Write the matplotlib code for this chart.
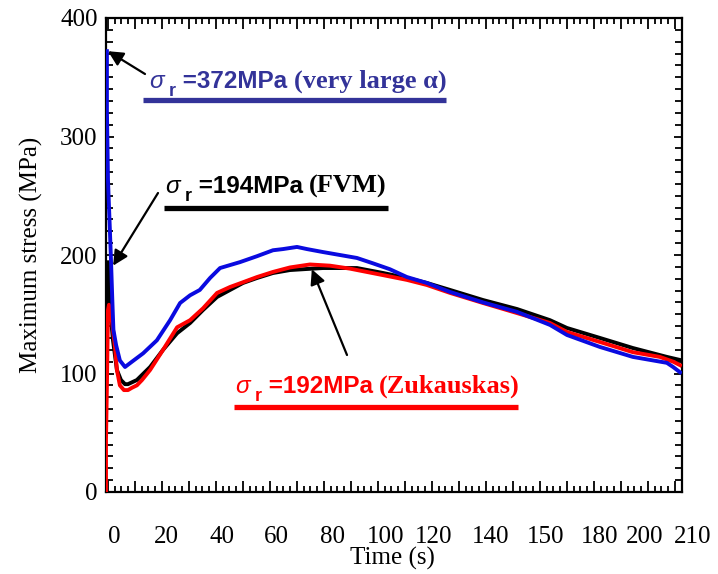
import matplotlib
matplotlib.use("Agg")
import matplotlib.pyplot as plt
from matplotlib.font_manager import FontProperties
from matplotlib.lines import Line2D
from matplotlib.ticker import MultipleLocator, NullFormatter

# ---- data -------------------------------------------------------------
t_blue = [-0.4, -0.4, 0.0, 0.7, 1.1, 1.6, 2.0, 3.0, 4.4, 6.3, 8.9, 13.0, 18.1, 23.0,
          26.7, 30.4, 34.0, 37.8, 41.5, 48.9, 55.2, 61.1, 64.8, 70.0, 73.7, 79.6,
          85.9, 92.2, 98.1, 104.4, 110.7, 118.1, 126.7, 138.9, 151.5, 163.7, 170.0,
          182.2, 194.4, 207.0, 209.3, 211.9]
s_blue = [372, 322, 263, 221, 196, 162, 137, 124, 111, 105.5, 110, 117, 128, 145,
          159.5, 166, 170.5, 180.6, 189, 194, 199, 204, 205, 206.8, 205, 202.5,
          200, 197.5, 193, 188, 181.4, 176.4, 168.8, 160, 152, 141, 132.5,
          122.4, 114, 109, 105.5, 101]

t_black = [-0.74, -0.37, 0.0, 0.37, 0.74, 1.85, 3.3, 4.8, 6.3, 7.4, 10.7, 15.6, 20.4,
           25.6, 30.4, 35.2, 40.4, 45.2, 50.0, 55.2, 61.1, 67.4, 73.7, 79.6, 92.2,
           101.9, 110.7, 118.1, 126.7, 138.9, 151.5, 163.7, 170.0, 182.2, 194.4,
           207.0, 211.9]
s_black = [99, 128, 194, 175, 156, 128, 103, 94.5, 91, 91, 94.5, 105.5, 120,
           134, 142.6, 153.6, 164.6, 170.5, 176.4, 180.6, 184.8, 187.3, 188.2, 189, 189,
           184.8, 180.6, 176.4, 170.5, 162, 154.4, 145, 138.4, 130, 121.5,
           114, 111.4]

t_red = [-0.74, -0.74, -0.37, 0.0, 0.37, 0.74, 1.5, 2.6, 3.3, 4.4, 5.9, 7.4, 8.9, 10.7,
         12.6, 15.6, 20.4, 25.6, 30.4, 35.2, 40.4, 45.2, 50.0, 55.2, 61.1, 67.4, 74.8,
         82.2, 89.6, 101.9, 110.7, 118.1, 126.7, 138.9, 151.5, 163.7, 170.0, 182.2,
         194.4, 204.4, 209.3, 211.9]
s_red = [0, 44, 94.5, 153.6, 158, 149, 143.5, 122, 103, 90, 86, 86, 88, 90,
         94.5, 103, 120, 139, 145, 155, 168, 173, 177, 181.4, 185.7, 189.5, 192,
         191, 188.5, 183, 179, 174.7, 168, 159.5, 151, 142.6, 135, 126.6,
         118, 114, 110, 107]

# time-axis labels and where they sit along the axis
time_lab = ["0", "20", "40", "60", "80", "100", "120", "140", "150", "180", "200", "210"]
time_lab_pos = [2.2, 21.8, 42.2, 62.2, 83.3, 103, 120.7, 141.8, 161.9, 182, 198.9, 216.7]

peak_blue, peak_black, peak_red = 372, 194, 192

# ---- figure -----------------------------------------------------------
serif = "Liberation Serif"
W, H = 718, 574
fig = plt.figure(figsize=(W / 100, H / 100), dpi=100)
ax = fig.add_axes([106 / W, (H - 492) / H, 576 / W, 474 / H])

ax.plot(t_black, s_black, color="black", lw=2.8, solid_joinstyle="round", zorder=3)
ax.plot(t_red, s_red, color="#ff0000", lw=2.8, solid_joinstyle="round", zorder=4)
ax.plot(t_blue, s_blue, color="#0a0ae0", lw=2.8, solid_joinstyle="round", zorder=5)

ax.set_xlim(-0.74, 212.6)
ax.set_ylim(0, 400)

ax.xaxis.set_major_locator(MultipleLocator(10))
ax.xaxis.set_minor_locator(MultipleLocator(2.5))
ax.xaxis.set_major_formatter(NullFormatter())
ax.yaxis.set_major_locator(MultipleLocator(100))
ax.yaxis.set_minor_locator(MultipleLocator(10))

ax.tick_params(axis="both", which="both", direction="in", top=True, right=True,
               width=1.3, labelsize=18, pad=6)
ax.tick_params(axis="x", which="major", length=8)
ax.tick_params(axis="x", which="minor", length=4)
ax.tick_params(axis="y", which="major", length=6)
ax.tick_params(axis="y", which="minor", length=5)
for lab in ax.get_yticklabels():
    lab.set_fontfamily(serif)

xt = ax.get_xaxis_transform()
for pos, lab in zip(time_lab_pos, time_lab):
    ax.text(pos, -0.095, lab, transform=xt, ha="center", va="center",
            fontsize=18, family=serif, clip_on=False)

for sp in ax.spines.values():
    sp.set_linewidth(1.6)

ax.set_xlabel("Time (s)", family=serif, fontsize=18)
ax.xaxis.set_label_coords(0.497, -0.116)
ax.set_ylabel("Maximum stress (MPa)", family=serif, fontsize=18, labelpad=12)

# ---- labels with arrows ------------------------------------------------
fig.canvas.draw()
renderer = fig.canvas.get_renderer()

sig_fp = FontProperties(family="Liberation Sans", style="italic", size=17.5)
sub_fp = FontProperties(family="Liberation Sans", weight="bold", size=13)
val_fp = FontProperties(family="Liberation Sans", weight="bold", size=17.5)
txt_fp = FontProperties(family=serif, weight="bold", size=19)


def stress_label(x0, base, value, note, color, bar):
    pieces = [("σ", sig_fp, 0), (" r", sub_fp, 8), (f" ={value}MPa ", val_fp, 0),
              (note, txt_fp, 0)]
    x = x0
    for s, fp, dy in pieces:
        t = fig.text(x / W, 1 - (base + dy) / H, s, fontproperties=fp, color=color,
                     ha="left", va="baseline")
        x = t.get_window_extent(renderer).x1
    fig.add_artist(Line2D([bar[0] / W, bar[1] / W], [1 - bar[2] / H] * 2,
                          transform=fig.transFigure, color=color, lw=3.8,
                          solid_capstyle="butt"))


def arrow(tip_t, tip_s, tail_px):
    ax.annotate("", xy=(tip_t, tip_s), xycoords="data",
                xytext=(tail_px[0], H - tail_px[1]), textcoords="figure pixels",
                arrowprops=dict(arrowstyle="-|>,head_length=0.9,head_width=0.45",
                                color="black", lw=1.6, shrinkA=0, shrinkB=0),
                annotation_clip=False, zorder=6)


stress_label(149, 88, peak_blue, "(very large α)", "#333399", (143, 446, 100))
stress_label(165, 193, peak_black, "(FVM)", "black", (164, 388, 208))
stress_label(235, 393, peak_red, "(Zukauskas)", "#ff0000", (234, 518, 407))

arrow(0.0, peak_blue, (145, 74))
arrow(1.9, 191, (158, 193))
arrow(75.5, 188, (347, 355))

fig.savefig("out.png", dpi=100)
